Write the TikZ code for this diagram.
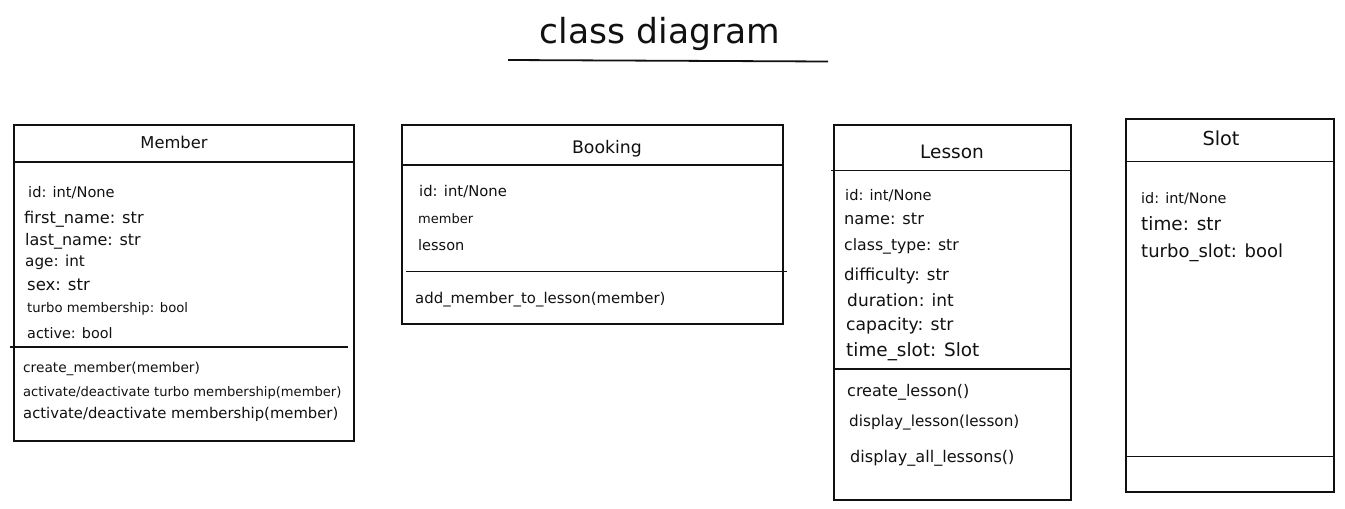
\documentclass[tikz,border=0pt]{standalone}
\usepackage{fontspec}
\setmainfont{DejaVu Sans}
\newcommand\fsz[1]{\fontsize{#1}{#1}\selectfont}
\definecolor{ink}{HTML}{111111}
\begin{document}
\begin{tikzpicture}[x=1pt,y=-1pt,
  classbox/.style={draw=ink, line width=1.6pt, rectangle, inner sep=0pt, anchor=north west},
  sepline/.style={draw=ink, line width=1.4pt},
  txt/.style={anchor=base west, inner sep=0pt, text=ink},
  head/.style={anchor=base, inner sep=0pt, text=ink}]
\useasboundingbox (0,0) rectangle (1345,509);
\fill[white] (0,0) rectangle (1345,509);

% title
\node[head, font=\fsz{34.5}] (title) at (660,43.5) {class diagram};
\coordinate (ulA) at (508,60);
\coordinate (ulB) at (828,61.5);
\draw[sepline, line width=1.8pt] (ulA) -- (ulB);

% ---------- Member ----------
\node[classbox, minimum width=340pt, minimum height=316pt] (member) at (13,124) {};
\coordinate (mh1) at (13,162); \coordinate (mh2) at (353,162);
\coordinate (md1) at (10,347); \coordinate (md2) at (348,347);
\draw[sepline] (mh1) -- (mh2);
\draw[sepline] (md1) -- (md2);
\node[head, font=\fsz{16.3}] (memberT) at (174,148) {Member};
\node[txt, font=\fsz{14.6}] (m1) at (28,197) {id: int/None};
\node[txt, font=\fsz{16.2}] (m2) at (24,223) {first\_name: str};
\node[txt, font=\fsz{16}] (m3) at (25,245) {last\_name: str};
\node[txt, font=\fsz{15.2}] (m4) at (25,266.5) {age: int};
\node[txt, font=\fsz{16.5}] (m5) at (27,290) {sex: str};
\node[txt, font=\fsz{13.2}] (m6) at (27,312.5) {turbo membership: bool};
\node[txt, font=\fsz{14.4}] (m7) at (27,338) {active: bool};
\node[txt, font=\fsz{13.7}] (m8) at (23,372.5) {create\_member(member)};
\node[txt, font=\fsz{13.1}] (m9) at (23,396) {activate/deactivate turbo membership(member)};
\node[txt, font=\fsz{14.8}] (m10) at (23,418) {activate/deactivate membership(member)};

% ---------- Booking ----------
\node[classbox, minimum width=381pt, minimum height=199pt] (booking) at (401,124) {};
\coordinate (bh1) at (401,165); \coordinate (bh2) at (782,165);
\coordinate (bd1) at (406,271.5); \coordinate (bd2) at (787,271.5);
\draw[sepline] (bh1) -- (bh2);
\draw[sepline] (bd1) -- (bd2);
\node[head, font=\fsz{17.3}] (bookingT) at (607,153) {Booking};
\node[txt, font=\fsz{14.8}] (b1) at (419,196.5) {id: int/None};
\node[txt, font=\fsz{13}] (b2) at (418,223) {member};
\node[txt, font=\fsz{14.5}] (b3) at (418,250) {lesson};
\node[txt, font=\fsz{14.9}] (b4) at (415,303) {add\_member\_to\_lesson(member)};

% ---------- Lesson ----------
\node[classbox, minimum width=237pt, minimum height=375pt] (lesson) at (833,124) {};
\coordinate (lh1) at (831,170.5); \coordinate (lh2) at (1070,170.5);
\coordinate (ld1) at (833,369); \coordinate (ld2) at (1070,369);
\draw[sepline] (lh1) -- (lh2);
\draw[sepline] (ld1) -- (ld2);
\node[head, font=\fsz{18.5}] (lessonT) at (952,158) {Lesson};
\node[txt, font=\fsz{14.6}] (l1) at (845,200.5) {id: int/None};
\node[txt, font=\fsz{16.2}] (l2) at (844,224) {name: str};
\node[txt, font=\fsz{15.7}] (l3) at (844,250) {class\_type: str};
\node[txt, font=\fsz{16.5}] (l4) at (844,280) {difficulty: str};
\node[txt, font=\fsz{17}] (l5) at (847,306.5) {duration: int};
\node[txt, font=\fsz{17.2}] (l6) at (846,330) {capacity: str};
\node[txt, font=\fsz{18.4}] (l7) at (846,356.5) {time\_slot: Slot};
\node[txt, font=\fsz{16}] (l8) at (847,396.5) {create\_lesson()};
\node[txt, font=\fsz{15.2}] (l9) at (849,426.5) {display\_lesson(lesson)};
\node[txt, font=\fsz{16.1}] (l10) at (850,462.5) {display\_all\_lessons()};

% ---------- Slot ----------
\node[classbox, minimum width=208pt, minimum height=373pt] (slot) at (1125,118) {};
\coordinate (sh1) at (1125,161.5); \coordinate (sh2) at (1333,161.5);
\coordinate (sd1) at (1125,456.5); \coordinate (sd2) at (1333,456.5);
\draw[sepline] (sh1) -- (sh2);
\draw[sepline] (sd1) -- (sd2);
\node[head, font=\fsz{19.3}] (slotT) at (1221,145) {Slot};
\node[txt, font=\fsz{14.4}] (s1) at (1141,203) {id: int/None};
\node[txt, font=\fsz{18.4}] (s2) at (1141,230) {time: str};
\node[txt, font=\fsz{18}] (s3) at (1141,257) {turbo\_slot: bool};
\end{tikzpicture}
\end{document}
